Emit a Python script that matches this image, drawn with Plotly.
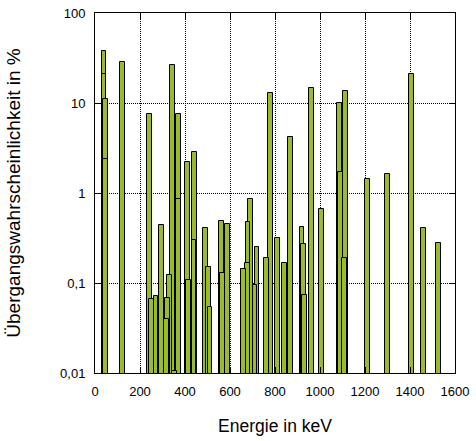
import pandas as pd
import plotly.graph_objects as go

# Gamma / X-ray lines (energy in keV, probability in %)
energy = [40, 40, 45, 45, 122, 244, 252, 271, 296, 316, 324, 329, 344, 352,
          369, 369, 411, 416, 440, 444, 489, 503, 511, 564, 566, 587,
          658, 676, 680, 689, 711, 720, 764, 779, 810, 841, 867,
          920, 925, 930, 964, 1005, 1085, 1090, 1110, 1112,
          1213, 1299, 1408, 1458, 1528]
probability = [37.8, 21.0, 11.1, 2.4, 28.6, 7.55, 0.066, 0.071, 0.44, 0.040, 0.068, 0.123, 26.4, 0.0105,
               7.5, 0.86, 2.21, 0.108, 0.30, 2.86, 0.41, 0.15, 0.054, 0.49, 0.13, 0.45,
               0.143, 0.167, 0.48, 0.86, 0.095, 0.25, 0.19, 12.9, 0.32, 0.167, 4.2,
               0.42, 0.27, 0.074, 14.7, 0.66, 10.0, 1.71, 0.19, 13.6,
               1.43, 1.63, 21.0, 0.41, 0.28]

y_tickvals = [0.01, 0.1, 1, 10, 100]
y_ticktext = ["0,01", "0,1", "1", "10", "100"]

df = pd.DataFrame({"Energie": energy, "P": probability})
# tall bars first so the small ones stay visible on top
df = df.sort_values("P", ascending=False)

fig = go.Figure(
    go.Bar(
        x=df["Energie"],
        y=df["P"],
        width=22,
        marker=dict(color="#9ABB2B", line=dict(color="black", width=1)),
        showlegend=False,
    )
)

axis_style = dict(
    showline=True, linecolor="black", linewidth=1, mirror="ticks",
    ticks="inside", ticklen=6, tickcolor="black",
    showgrid=True, gridcolor="black", gridwidth=1, griddash="1px,1px",
    zeroline=False, automargin=False, ticklabeloverflow="allow",
    tickfont=dict(family="Arial, Liberation Sans", size=13, color="black"),
)

fig.update_layout(
    width=476, height=441,
    margin=dict(l=95, r=21, t=13, b=68),
    paper_bgcolor="white", plot_bgcolor="white",
    barmode="overlay", bargap=0,
    font=dict(family="Arial, Liberation Sans", color="black"),
)

fig.update_xaxes(
    range=[0, 1600], dtick=200, tick0=0,
    title=dict(text="Energie in keV", font=dict(size=17.5), standoff=22),
    ticklabelstandoff=6,
    **axis_style,
)
fig.update_yaxes(
    type="log", range=[-2, 2],
    tickvals=y_tickvals, ticktext=y_ticktext,
    title=dict(text="Übergangswahrscheinlichkeit in %", font=dict(size=19), standoff=34),
    ticklabelstandoff=6,
    **axis_style,
)

# drop the default 8px body margin so the figure sits at the window corner
fig.write_html(
    "out.html",
    config={"displayModeBar": False},
    post_script="document.body.style.margin='0';",
)
